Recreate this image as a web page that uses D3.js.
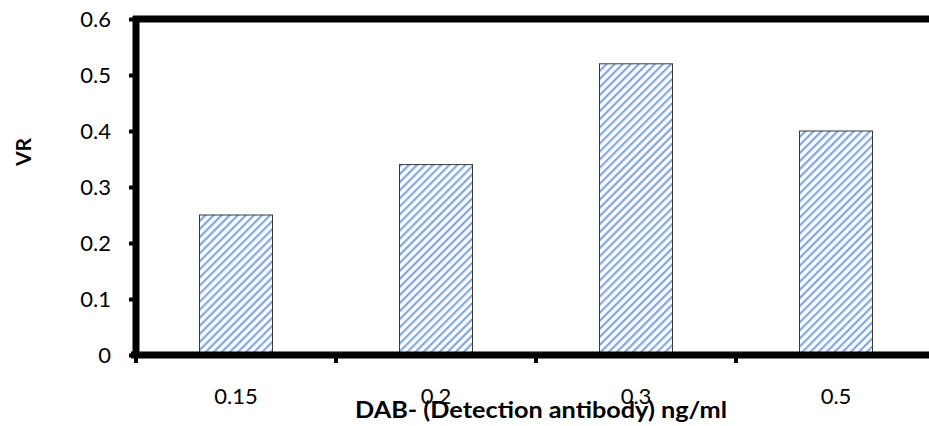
<!DOCTYPE html>
<html>
<head>
<meta charset="utf-8">
<script src="https://cdnjs.cloudflare.com/ajax/libs/d3/7.8.5/d3.min.js"></script>
<style>
  html, body { margin: 0; padding: 0; background: #fff; }
  svg text { font-family: Lato, "Open Sans", sans-serif; fill: #000; }
</style>
</head>
<body>
<svg id="chart" width="929" height="426"></svg>
<script>
// Antibody concentrations (ng/ml) and measured VR
const categories = ["0.15", "0.2", "0.3", "0.5"];
const vrValues = [0.25, 0.34, 0.52, 0.40];
const yTicks = [0, 0.1, 0.2, 0.3, 0.4, 0.5, 0.6];
const xTitle = "DAB- (Detection antibody) ng/ml";
const yTitle = "VR";

const svg = d3.select("#chart");
const plotLeft = 136, plotTop = 19, plotBottom = 355, plotRight = 936;

const x = d3.scaleBand().domain(categories).range([plotLeft, plotRight]).paddingInner(0.635).paddingOuter(0.3175);
const y = d3.scaleLinear().domain([0, 0.6]).range([plotBottom, plotTop]);

// diagonal hatch fill for the bars
const defs = svg.append("defs");
const pat = defs.append("pattern")
  .attr("id", "hatch").attr("patternUnits", "userSpaceOnUse")
  .attr("width", 5.7).attr("height", 5.7)
  .attr("patternTransform", "rotate(45)");
pat.append("rect").attr("width", 5.7).attr("height", 5.7).attr("fill", "#ffffff");
pat.append("rect").attr("x", 0).attr("width", 2.3).attr("height", 5.7).attr("fill", "#86aadc");

// bars
svg.append("g").selectAll("rect").data(vrValues).join("rect")
  .attr("x", (d, i) => x(categories[i]))
  .attr("y", d => y(d))
  .attr("width", x.bandwidth())
  .attr("height", d => y(0) - y(d))
  .attr("fill", "url(#hatch)")
  .attr("stroke", "#3a3a3a")
  .attr("stroke-width", 1);

// top border of plot area
svg.append("line")
  .attr("x1", plotLeft - 3).attr("x2", 929)
  .attr("y1", y(0.6)).attr("y2", y(0.6))
  .attr("stroke", "#000").attr("stroke-width", 7);

// y axis
const yAxis = svg.append("g").attr("transform", `translate(${plotLeft},0)`)
  .call(d3.axisLeft(y).tickValues(yTicks).tickFormat(d3.format("")).tickSize(5).tickPadding(20));
yAxis.select(".domain").attr("stroke-width", 7).attr("d", `M0,${y(0) + 3}V${y(0.6) - 3}`);
yAxis.selectAll(".tick line").attr("stroke-width", 4).attr("x1", -3).attr("x2", -7);
yAxis.selectAll(".tick text").attr("font-size", 22).attr("dy", "0.36em");

// x axis with ticks between categories
const xAxisG = svg.append("g").attr("transform", `translate(0,${plotBottom})`);
xAxisG.append("line").attr("x1", plotLeft - 5).attr("x2", 929)
  .attr("stroke", "#000").attr("stroke-width", 7);
const step = x.step();
const boundaries = d3.range(categories.length).map(i => x(categories[i]) - x.paddingInner() * step / 2);
xAxisG.selectAll("line.tk").data(boundaries).join("line").attr("class", "tk")
  .attr("x1", d => d).attr("x2", d => d).attr("y1", 0).attr("y2", 8)
  .attr("stroke", "#000").attr("stroke-width", 4);
xAxisG.selectAll("text").data(categories).join("text")
  .attr("x", d => x(d) + x.bandwidth() / 2)
  .attr("y", 49)
  .attr("text-anchor", "middle")
  .attr("font-size", 22)
  .text(d => d);

// axis titles
svg.append("text").attr("x", 541).attr("y", 418).attr("text-anchor", "middle")
  .attr("font-size", 23).attr("font-weight", "bold")
  .attr("textLength", 372).attr("lengthAdjust", "spacingAndGlyphs").text(xTitle);
svg.append("text").attr("transform", `translate(31,152) rotate(-90)`)
  .attr("text-anchor", "middle").attr("font-size", 21).attr("font-weight", "bold").text(yTitle);
</script>
</body>
</html>
